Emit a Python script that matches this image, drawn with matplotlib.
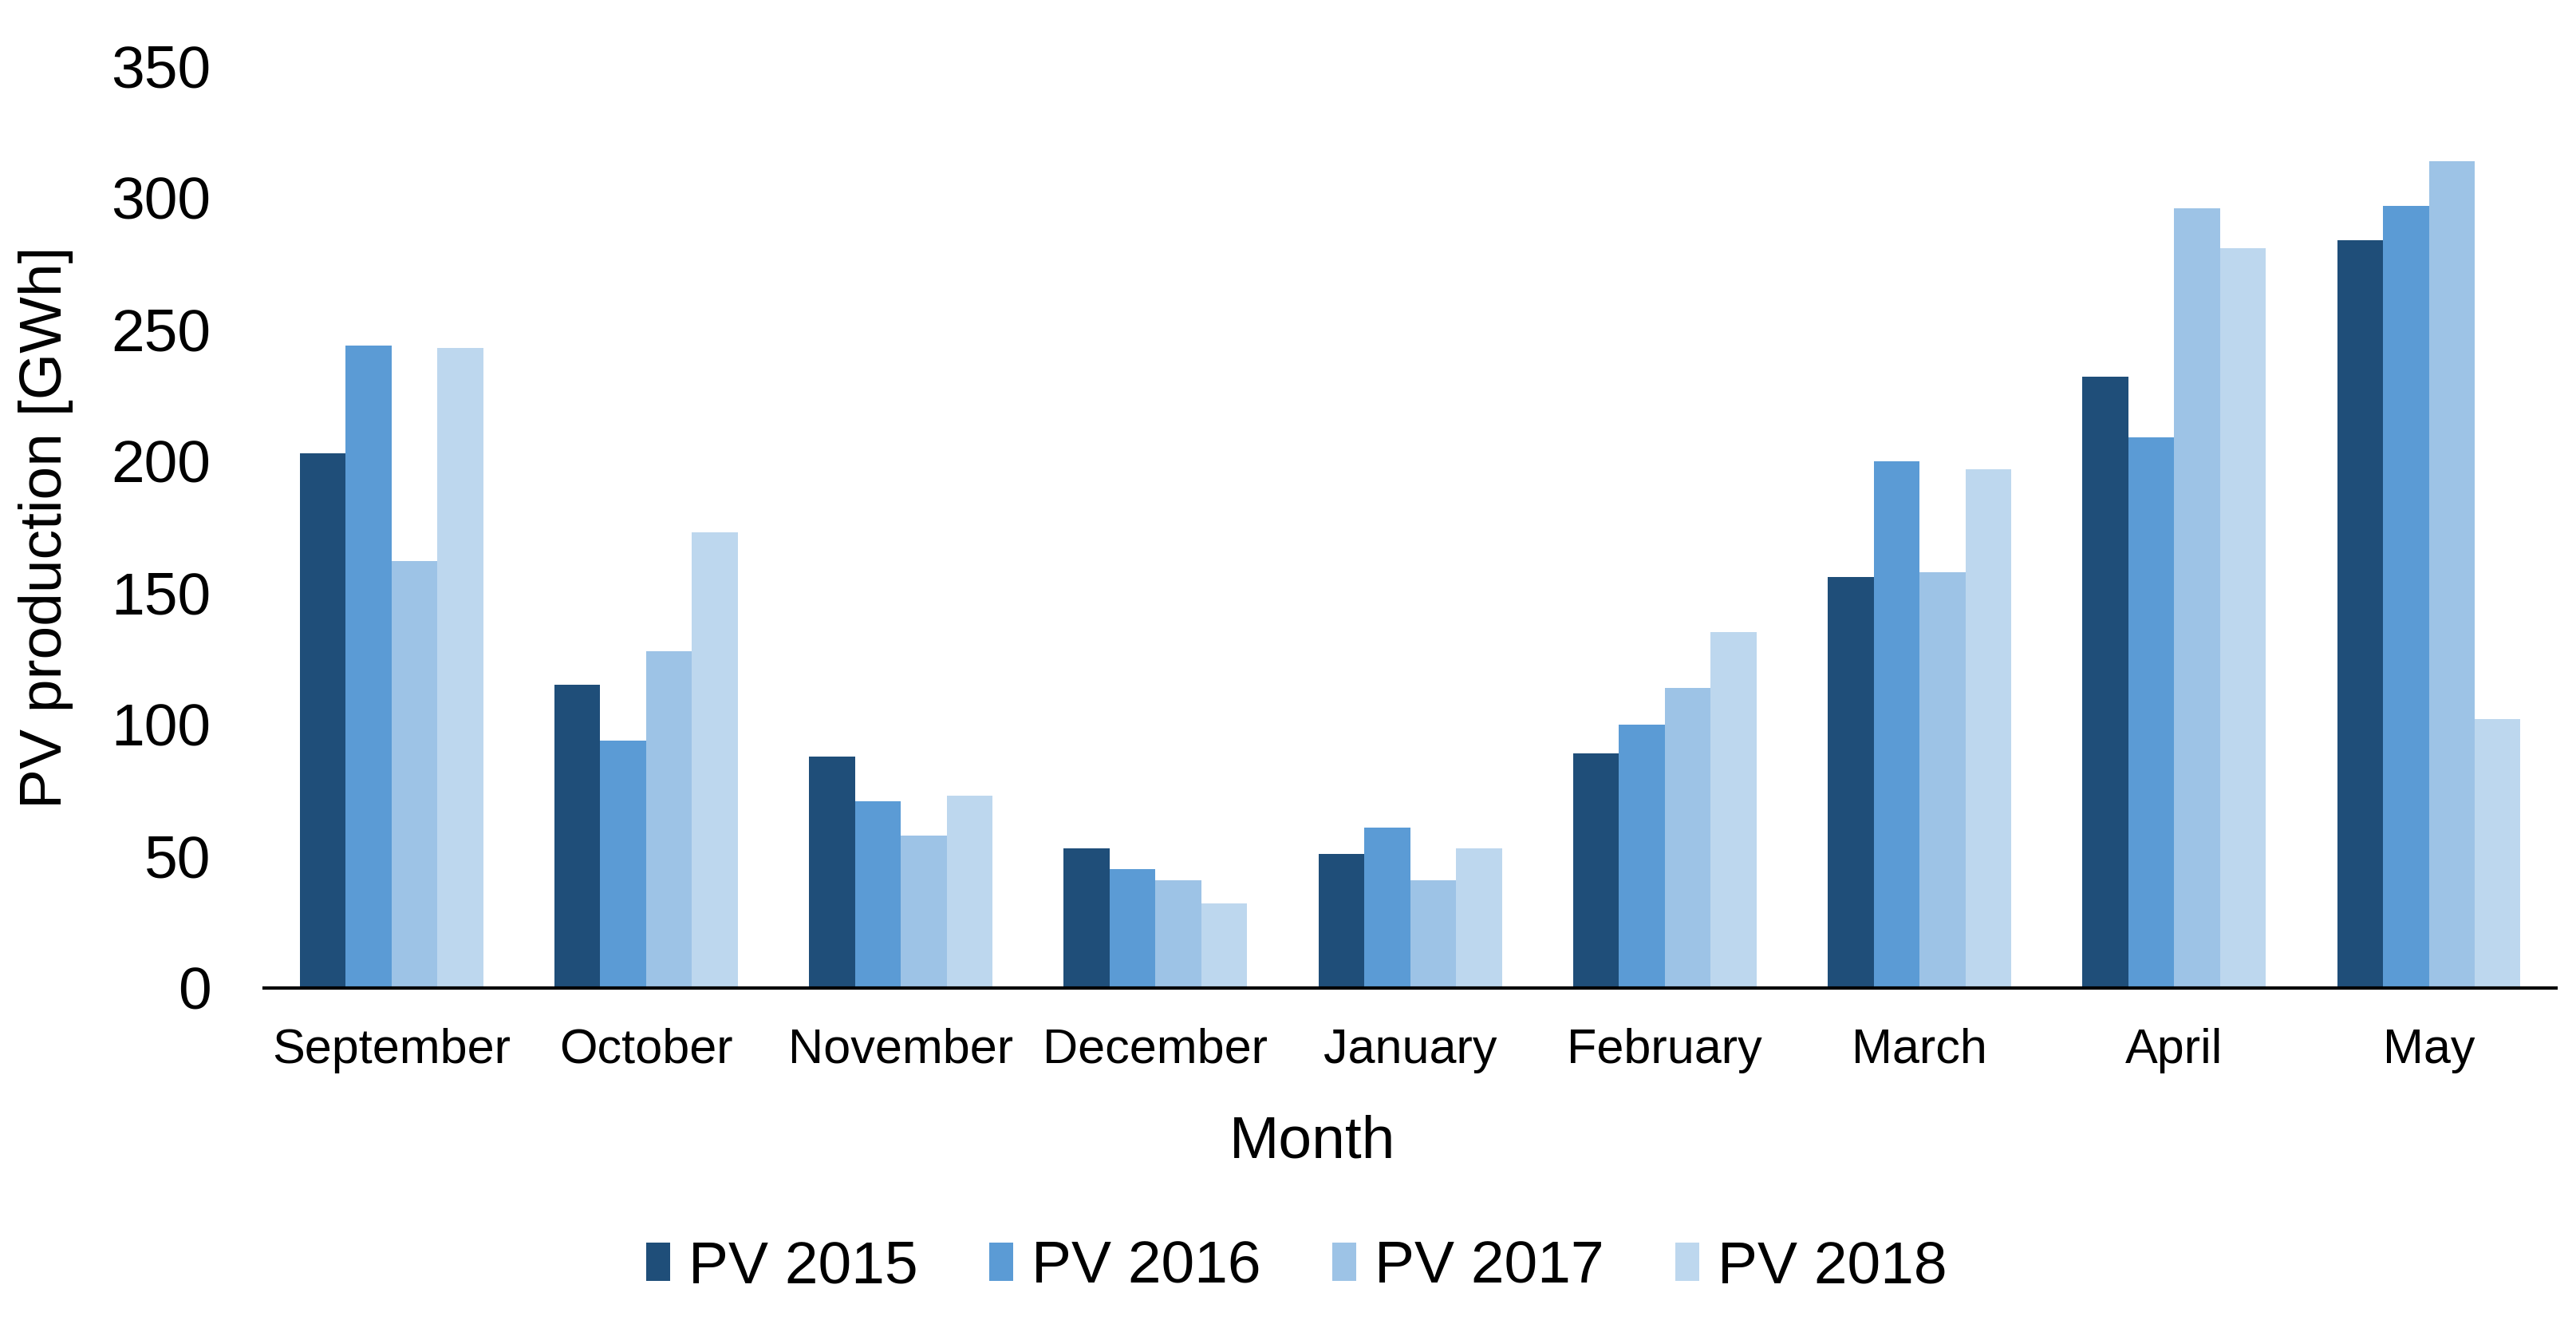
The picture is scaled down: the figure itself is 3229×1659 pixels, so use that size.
import numpy as np
import matplotlib
matplotlib.use('Agg')
import matplotlib.pyplot as plt

plt.rcParams['font.family'] = ['Liberation Sans', 'DejaVu Sans']

months = ['September', 'October', 'November', 'December', 'January',
          'February', 'March', 'April', 'May']
series_names = ['PV 2015', 'PV 2016', 'PV 2017', 'PV 2018']
pv_2015 = [203, 115, 88, 53, 51, 89, 156, 232, 284]
pv_2016 = [244, 94, 71, 45, 61, 100, 200, 209, 297]
pv_2017 = [162, 128, 58, 41, 41, 114, 158, 296, 314]
pv_2018 = [243, 173, 73, 32, 53, 135, 197, 281, 102]
colors = ['#1F4E79', '#5B9BD5', '#9DC3E6', '#BDD7EE']
y_ticks = [0, 50, 100, 150, 200, 250, 300, 350]

fig = plt.figure(figsize=(32.3, 16.59), dpi=100)
ax = fig.add_axes([0.1025, 0.2538, 0.8895, 0.6962])

x = np.arange(len(months))
width = 0.18
for i, (vals, name, c) in enumerate(zip([pv_2015, pv_2016, pv_2017, pv_2018],
                                        series_names, colors)):
    ax.bar(x + (i - 1.5) * width, vals, width, color=c, label=name)

ax.set_xlim(-0.5, len(months) - 0.5)
ax.set_ylim(0, 350)
ax.set_yticks(y_ticks)
ax.set_xticks(x)
ax.set_xticklabels(months)
ax.tick_params(axis='y', length=0, labelsize=54, pad=48)
ax.tick_params(axis='x', length=0, labelsize=44, pad=36)

for side in ['top', 'right', 'left']:
    ax.spines[side].set_visible(False)
ax.spines['bottom'].set_linewidth(3)
ax.spines['bottom'].set_color('black')

ax.set_ylabel('PV production [GWh]', fontsize=54, labelpad=34)
ax.set_xlabel('Month', fontsize=54)
ax.xaxis.set_label_coords(0.4575, -0.137)

ax.legend(loc='center', bbox_to_anchor=(0.4505, -0.303), ncol=4, frameon=False,
          fontsize=54, handlelength=0.4, handleheight=0.6,
          handletextpad=0.3, columnspacing=1.2)

fig.savefig('out.png', dpi=100)
